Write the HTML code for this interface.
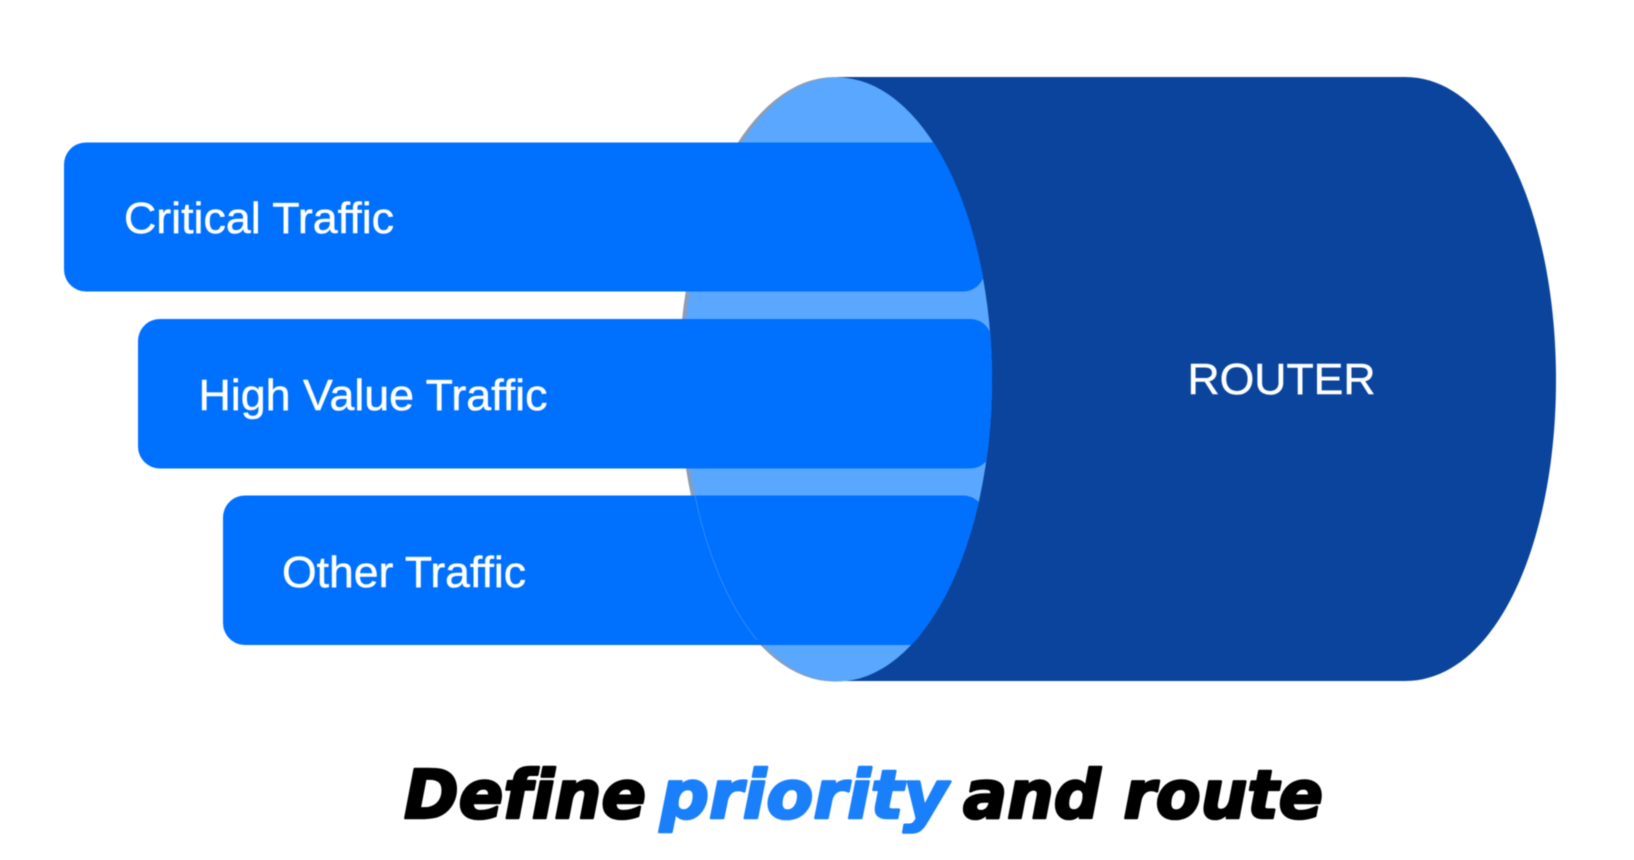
<!DOCTYPE html>
<html>
<head>
<meta charset="utf-8">
<style>
html,body{margin:0;padding:0;background:#fff;width:1634px;height:860px;overflow:hidden}
svg{display:block;filter:blur(.5px)}
.l{font-family:"Liberation Sans",Arial,sans-serif;font-size:44px;fill:#fff;stroke:#fff;stroke-width:.5}
.t{font-family:"DejaVu Sans",sans-serif;font-weight:700;font-style:italic;font-size:67px;stroke-width:2.6;stroke-linejoin:round;font-variant-ligatures:none}
</style>
</head>
<body>
<svg width="1634" height="860" viewBox="0 0 1634 860" xmlns="http://www.w3.org/2000/svg">
  <defs>
    <clipPath id="c">
      <rect x="0" y="0" width="837" height="860"/>
      <ellipse cx="838" cy="379.3" rx="154" ry="302.3"/>
    </clipPath>
  </defs>
  <path d="M837 77 H1405 C1495 77 1556 215 1556 380 C1556 545 1495 681 1405 681 H837 Z" fill="#0a449c"/>
  <ellipse cx="834.5" cy="379.3" rx="155.5" ry="302.3" fill="#8a9db8"/>
  <ellipse cx="837.5" cy="379.5" rx="154.5" ry="302" fill="#5aa7ff"/>
  <g clip-path="url(#c)" fill="#0070ff">
    <rect x="64" y="142.5" width="921" height="149" rx="22"/>
    <rect x="138" y="319" width="854" height="149.5" rx="22"/>
    <rect x="223" y="495.5" width="762" height="149.5" rx="22"/>
  </g>
  <path d="M695 495.5 A155 302.3 0 0 0 757 640" fill="none" stroke="#2f8bff" stroke-width="1"/>
  <text class="l" x="124" y="233" textLength="270" lengthAdjust="spacingAndGlyphs">Critical Traffic</text>
  <text class="l" x="198.5" y="410" textLength="349" lengthAdjust="spacingAndGlyphs">High Value Traffic</text>
  <text class="l" x="282" y="587" textLength="244" lengthAdjust="spacingAndGlyphs">Other Traffic</text>
  <text class="l" x="1187.5" y="394" textLength="188" lengthAdjust="spacingAndGlyphs">ROUTER</text>
  <text class="t" x="404" y="818" fill="#000" stroke="#000" textLength="242" lengthAdjust="spacingAndGlyphs">Define</text>
  <text class="t" x="660" y="818" fill="#1a7ffb" stroke="#1a7ffb" textLength="288" lengthAdjust="spacingAndGlyphs">priority</text>
  <text class="t" x="963" y="818" fill="#000" stroke="#000" textLength="360" lengthAdjust="spacingAndGlyphs">and route</text>
</svg>
</body>
</html>
